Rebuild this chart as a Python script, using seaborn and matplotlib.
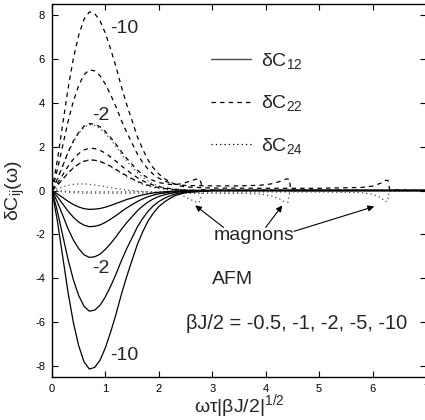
import matplotlib
matplotlib.use("Agg")
import matplotlib.pyplot as plt
import seaborn as sns
from matplotlib.lines import Line2D

sns.set_style("ticks")
plt.rcParams["font.family"] = ["Liberation Sans", "DejaVu Sans"]
plt.rcParams["mathtext.fontset"] = "custom"
plt.rcParams["mathtext.rm"] = "Liberation Sans"
plt.rcParams["mathtext.it"] = "Liberation Sans"
plt.rcParams["mathtext.default"] = "regular"
plt.rcParams["axes.unicode_minus"] = False
plt.rcParams["lines.scale_dashes"] = False

# ---------------- data ----------------
x_main = [0.0, 0.1, 0.2, 0.3, 0.4, 0.5, 0.6, 0.7, 0.8, 0.9, 1.0, 1.1, 1.2,
          1.3, 1.4, 1.5, 1.6, 1.7, 1.8, 1.9, 2.0, 2.1, 2.2, 2.3, 2.4, 2.5]

# delta C12 (solid), beta J/2 = -0.5, -1, -2, -5, -10
c12_05 = [0, -0.15, -0.32, -0.49, -0.64, -0.75, -0.83, -0.86, -0.85, -0.82, -0.76, -0.68, -0.59,
          -0.50, -0.41, -0.34, -0.26, -0.20, -0.15, -0.11, -0.08, -0.06, -0.04, -0.03, -0.02, -0.01]
c12_1 = [0, -0.28, -0.61, -0.94, -1.22, -1.44, -1.58, -1.65, -1.63, -1.57, -1.45, -1.30, -1.14,
         -0.96, -0.79, -0.64, -0.50, -0.38, -0.28, -0.21, -0.15, -0.11, -0.07, -0.05, -0.03, -0.02]
c12_2 = [0, -0.52, -1.13, -1.74, -2.26, -2.65, -2.93, -3.05, -3.02, -2.90, -2.68, -2.41, -2.10,
         -1.77, -1.46, -1.19, -0.92, -0.70, -0.52, -0.38, -0.27, -0.20, -0.14, -0.09, -0.06, -0.04]
c12_5 = [0, -0.94, -2.04, -3.14, -4.07, -4.79, -5.28, -5.50, -5.45, -5.23, -4.84, -4.35, -3.80,
         -3.19, -2.64, -2.15, -1.65, -1.27, -0.94, -0.69, -0.50, -0.36, -0.25, -0.17, -0.11, -0.07]
c12_10 = [0, -1.38, -3.01, -4.64, -6.02, -7.08, -7.81, -8.14, -8.06, -7.73, -7.16, -6.43, -5.62,
          -4.72, -3.91, -3.17, -2.44, -1.87, -1.38, -1.02, -0.73, -0.53, -0.37, -0.24, -0.16, -0.10]
c12_tail_x = [3.0, 7.0]
c12_tail_y = [0.0, 0.0]

# delta C22 (dashed)
c22_05 = [0, 0.24, 0.51, 0.79, 1.03, 1.21, 1.33, 1.39, 1.38, 1.32, 1.22, 1.10, 0.96,
          0.81, 0.67, 0.54, 0.42, 0.32, 0.24, 0.17, 0.13, 0.09, 0.06, 0.04, 0.03, 0.02]
c22_1 = [0, 0.33, 0.71, 1.10, 1.43, 1.68, 1.85, 1.93, 1.91, 1.83, 1.70, 1.52, 1.33,
         1.12, 0.93, 0.75, 0.58, 0.44, 0.33, 0.24, 0.17, 0.13, 0.09, 0.06, 0.04, 0.02]
c22_2 = [0, 0.52, 1.13, 1.74, 2.26, 2.65, 2.93, 3.05, 3.02, 2.90, 2.68, 2.41, 2.10,
         1.77, 1.46, 1.19, 0.92, 0.72, 0.56, 0.45, 0.37, 0.31, 0.28, 0.27, 0.30, 0.36]
c22_5 = [0, 0.94, 2.04, 3.14, 4.07, 4.79, 5.28, 5.50, 5.45, 5.23, 4.84, 4.35, 3.80,
         3.19, 2.64, 2.15, 1.65, 1.27, 0.96, 0.73, 0.56, 0.44, 0.35, 0.29, 0.25, 0.23]
c22_10 = [0, 1.38, 3.01, 4.64, 6.02, 7.08, 7.81, 8.14, 8.06, 7.73, 7.16, 6.43, 5.62,
          4.72, 3.91, 3.17, 2.44, 1.87, 1.38, 1.02, 0.75, 0.55, 0.40, 0.29, 0.21, 0.16]
c22_2_tail_x = [2.6, 2.7, 2.76, 2.79, 2.81, 3.0, 7.0]
c22_2_tail_y = [0.44, 0.52, 0.53, 0.35, 0.03, 0.02, 0.0]
c22_5_tail_x = [3.0, 3.5, 3.9, 4.1, 4.25, 4.38, 4.44, 4.47, 4.6, 7.0]
c22_5_tail_y = [0.21, 0.21, 0.24, 0.30, 0.40, 0.52, 0.53, 0.03, 0.02, 0.0]
c22_10_tail_x = [3.0, 4.0, 5.0, 5.8, 6.0, 6.15, 6.25, 6.29, 6.32, 6.5, 7.0]
c22_10_tail_y = [0.11, 0.10, 0.10, 0.14, 0.20, 0.33, 0.47, 0.45, 0.03, 0.02, 0.0]

# delta C24 (dotted)
c24_05 = [0, 0.51, 1.11, 1.71, 2.22, 2.61, 2.88, 3.00, 2.96, 2.82, 2.60, 2.32, 2.00,
          1.66, 1.35, 1.07, 0.81, 0.60, 0.43, 0.30, 0.20, 0.13, 0.08, 0.04, 0.02, 0.0]
c24_1 = [0, 0.24, 0.52, 0.80, 1.04, 1.22, 1.34, 1.40, 1.38, 1.32, 1.22, 1.08, 0.93,
         0.78, 0.63, 0.50, 0.38, 0.28, 0.20, 0.14, 0.09, 0.06, 0.03, 0.02, 0.01, 0.0]
c24_2 = [0, 0.08, 0.16, 0.23, 0.28, 0.30, 0.30, 0.28, 0.25, 0.21, 0.17, 0.13, 0.09,
         0.05, 0.02, 0.0, -0.03, -0.05, -0.07, -0.09, -0.10, -0.11, -0.12, -0.13, -0.17, -0.30]
c24_5 = [0, -0.03, -0.06, -0.08, -0.10, -0.11, -0.12, -0.12, -0.12, -0.12, -0.12, -0.12, -0.12,
         -0.12, -0.12, -0.12, -0.12, -0.12, -0.12, -0.12, -0.12, -0.12, -0.12, -0.13, -0.13, -0.13]
c24_10 = [0, -0.02, -0.03, -0.04, -0.05, -0.05, -0.06, -0.06, -0.06, -0.06, -0.06, -0.06, -0.06,
          -0.06, -0.06, -0.06, -0.06, -0.06, -0.06, -0.06, -0.06, -0.07, -0.07, -0.07, -0.07, -0.07]
c24_05_tail_x = [3.0, 7.0]
c24_05_tail_y = [0.0, 0.0]
c24_2_tail_x = [2.6, 2.7, 2.75, 2.79, 2.81, 3.0, 7.0]
c24_2_tail_y = [-0.42, -0.53, -0.55, -0.30, -0.02, -0.02, 0.0]
c24_5_tail_x = [3.0, 3.5, 3.9, 4.1, 4.25, 4.36, 4.42, 4.45, 4.6, 7.0]
c24_5_tail_y = [-0.13, -0.13, -0.16, -0.24, -0.38, -0.52, -0.53, -0.03, -0.02, 0.0]
c24_10_tail_x = [3.0, 4.0, 5.0, 5.8, 6.0, 6.15, 6.24, 6.28, 6.31, 6.5, 7.0]
c24_10_tail_y = [-0.07, -0.07, -0.07, -0.10, -0.17, -0.32, -0.50, -0.50, -0.03, -0.02, 0.0]

x_ticks = [0, 1, 2, 3, 4, 5, 6, 7]
y_ticks = [-8, -6, -4, -2, 0, 2, 4, 6, 8]

# ---------------- figure ----------------
fig = plt.figure(figsize=(4.25, 4.2), dpi=100)
ax = fig.add_axes([52 / 425, 43 / 420, 374 / 425, 373 / 420])

SOLID = "-"
DASH = (0, (3.2, 3.0))
DOT = (0, (0.9, 2.2))

def draw(xm, ym, tx, ty, ls, color, lw):
    sns.lineplot(x=list(xm) + list(tx), y=list(ym) + list(ty), ax=ax, color=color,
                 linewidth=lw, linestyle=ls, sort=False, estimator=None)

for yv in [c24_05, c24_1]:
    draw(x_main, yv, c24_05_tail_x, c24_05_tail_y, DOT, "0.3", 0.9)
draw(x_main, c24_2, c24_2_tail_x, c24_2_tail_y, DOT, "0.3", 0.9)
draw(x_main, c24_5, c24_5_tail_x, c24_5_tail_y, DOT, "0.3", 0.9)
draw(x_main, c24_10, c24_10_tail_x, c24_10_tail_y, DOT, "0.3", 0.9)

for yv in [c22_05, c22_1]:
    draw(x_main, yv, c12_tail_x, c12_tail_y, DASH, "black", 0.9)
draw(x_main, c22_2, c22_2_tail_x, c22_2_tail_y, DASH, "black", 0.9)
draw(x_main, c22_5, c22_5_tail_x, c22_5_tail_y, DASH, "black", 0.9)
draw(x_main, c22_10, c22_10_tail_x, c22_10_tail_y, DASH, "black", 0.9)

for yv in [c12_05, c12_1, c12_2, c12_5, c12_10]:
    draw(x_main, yv, c12_tail_x, c12_tail_y, SOLID, "black", 0.9)

ax.set_xlim(0, 7)
ax.set_ylim(-8.5, 8.5)
ax.set_xticks(x_ticks)
ax.set_yticks(y_ticks)
ax.tick_params(direction="in", length=4, width=0.8, top=True, right=True,
               labelsize=8, pad=5, colors="black")
for s in ax.spines.values():
    s.set_linewidth(1.0)
    s.set_color("black")

ax.set_xlabel(r"ωτ|βJ/2|$^{1/2}$", fontsize=14, labelpad=-1)
ax.set_ylabel(r"δC$_{ij}$(ω)", fontsize=14, labelpad=6)

handles = [Line2D([], [], color="0.3", lw=1.0, linestyle=SOLID),
           Line2D([], [], color="black", lw=0.9, linestyle=DASH),
           Line2D([], [], color="black", lw=0.9, linestyle=DOT)]
labels = [r"δC$_{12}$", r"δC$_{22}$", r"δC$_{24}$"]
ax.legend(handles, labels, loc="upper left", bbox_to_anchor=(0.40, 0.90),
          frameon=False, fontsize=14, handlelength=2.05, handletextpad=0.5,
          labelspacing=1.15, borderpad=0.0)

fs = 14
ax.text(1.09, 7.4, "-10", fontsize=fs, va="center", ha="left")
ax.text(0.75, 3.4, "-2", fontsize=fs, va="center", ha="left")
ax.text(0.75, -3.55, "-2", fontsize=fs, va="center", ha="left")
ax.text(1.09, -7.5, "-10", fontsize=fs, va="center", ha="left")
ax.text(3.02, -2.05, "magnons", fontsize=fs, va="center", ha="left")
ax.text(3.0, -4.05, "AFM", fontsize=fs, va="center", ha="left")
ax.text(2.5, -6.05, "βJ/2 = -0.5, -1, -2, -5, -10", fontsize=14.4, va="center", ha="left")

arrow = dict(arrowstyle="-|>", color="black", lw=0.8, mutation_scale=9,
             shrinkA=0, shrinkB=0)
ax.annotate("", xy=(2.68, -0.68), xytext=(3.21, -1.68), arrowprops=arrow)
ax.annotate("", xy=(4.31, -0.68), xytext=(4.0, -1.68), arrowprops=arrow)
ax.annotate("", xy=(6.03, -0.73), xytext=(4.53, -1.86), arrowprops=arrow)

fig.savefig("out.png", dpi=100)
